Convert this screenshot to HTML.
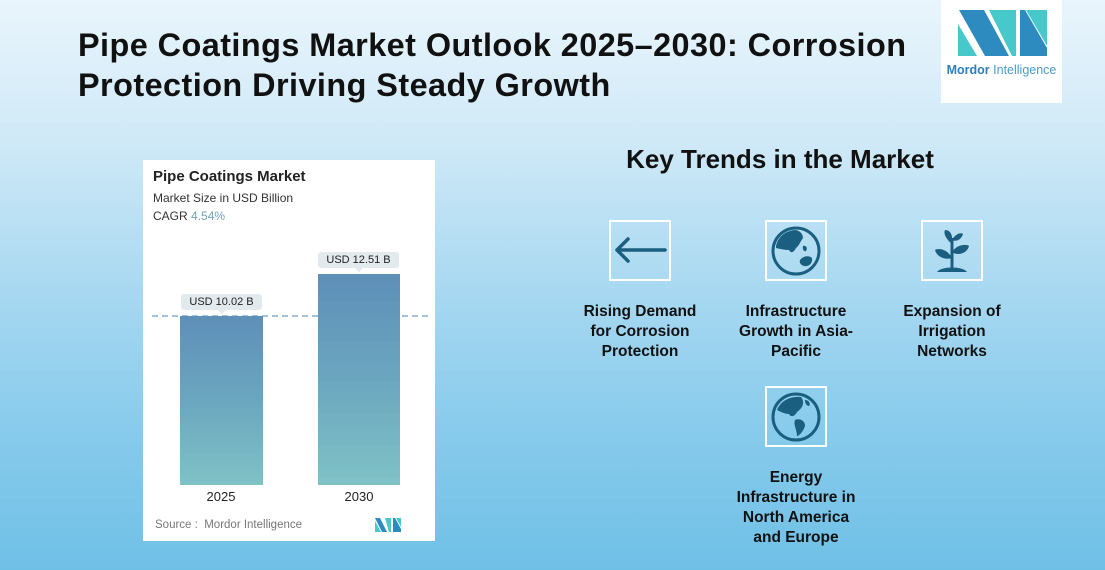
<!DOCTYPE html>
<html><head><meta charset="utf-8"><style>
*{margin:0;padding:0;box-sizing:border-box}
html,body{width:1105px;height:570px;overflow:hidden}
body{position:relative;font-family:"Liberation Sans",sans-serif;background:linear-gradient(180deg,#e9f5fc 0%,#cfe9f7 25%,#a9d9f1 50%,#88cbec 75%,#6fc0e7 100%)}
.abs{position:absolute}
.title{left:78px;top:25px;font-size:32.4px;font-weight:bold;color:#111;line-height:40px;letter-spacing:0.45px;white-space:nowrap}
.logo{left:941px;top:0;width:121px;height:103px;background:#fff}
.card{left:143px;top:160px;width:292px;height:381px;background:#fff}
.ct{font-size:15px;font-weight:bold;color:#222;letter-spacing:0}
.cs{font-size:12px;color:#333}
.bar{background:linear-gradient(180deg,#5e8fb8 0%,#6ba6bf 50%,#7fc2c6 100%)}
.lbl{background:#e2eaed;border-radius:3px;font-size:11px;color:#222;text-align:center;line-height:16px;height:16px}
.lbl:after{content:"";position:absolute;left:50%;margin-left:-4px;top:16px;border-left:4px solid transparent;border-right:4px solid transparent;border-top:4px solid #e2eaed}
.yr{font-size:13px;color:#222;width:80px;text-align:center}
.kt{left:530px;width:500px;top:144px;text-align:center;font-size:26px;font-weight:bold;color:#111}
.ib{width:62px;height:61px;border:2px solid #fff}
.it{width:170px;text-align:center;font-size:15.5px;font-weight:bold;color:#111;line-height:20px}
</style></head><body>
<div class="abs title">Pipe Coatings Market Outlook 2025–2030: Corrosion<br>Protection Driving Steady Growth</div>

<div class="abs logo">
<svg width="121" height="103" viewBox="0 0 121 103">
<polygon points="17,24 17,56 36,56" fill="#47c9cc"/>
<polygon points="18,10 43,10 68,56 44,56" fill="#2e8bc0"/>
<polygon points="48,10 75,10 75,56 71,56" fill="#47c9cc"/>
<polygon points="79,10 84,10 106,48 106,56 79,56" fill="#2e8bc0"/>
<polygon points="85,10 106,10 106,46" fill="#47c9cc"/>
<text x="60.5" y="74" text-anchor="middle" font-family="Liberation Sans,sans-serif" font-size="12.5" fill="#2e7fb5"><tspan font-weight="bold">Mordor</tspan><tspan fill="#4a9ccc"> Intelligence</tspan></text>
</svg>
</div>

<div class="abs card">
<div class="abs ct" style="left:10px;top:8px">Pipe Coatings Market</div>
<div class="abs cs" style="left:10px;top:31px">Market Size in USD Billion</div>
<div class="abs cs" style="left:10px;top:49px">CAGR <span style="color:#6fa0c0">4.54%</span></div>
<svg class="abs" style="left:9px;top:155px" width="279" height="2"><line x1="0" y1="1" x2="279" y2="1" stroke="#6d9dc0" stroke-width="1.2" stroke-dasharray="6,4"/></svg>
<div class="abs bar" style="left:37px;top:156px;width:83px;height:169px"></div>
<div class="abs bar" style="left:175px;top:114px;width:82px;height:211px"></div>
<div class="abs lbl" style="left:38px;top:134px;width:81px">USD 10.02 B</div>
<div class="abs lbl" style="left:175px;top:92px;width:81px">USD 12.51 B</div>
<div class="abs yr" style="left:38px;top:329px">2025</div>
<div class="abs yr" style="left:176px;top:329px">2030</div>
<div class="abs" style="left:12px;top:359px;font-size:11.5px;color:#777">Source :&nbsp; Mordor Intelligence</div>
<svg class="abs" style="left:232px;top:358px" width="26" height="14" viewBox="0 0 26 14">
<polygon points="0,0 5,0 12,14 7,14" fill="#2e8bc0"/><polygon points="0,3 0,14 6,14" fill="#47c9cc"/>
<polygon points="10,0 16,0 16,14 14,14" fill="#47c9cc"/><polygon points="18,0 20,0 26,11 26,14 18,14" fill="#2e8bc0"/><polygon points="21,0 26,0 26,9" fill="#47c9cc"/>
</svg>
</div>

<div class="abs kt">Key Trends in the Market</div>

<div class="abs ib" style="left:609px;top:220px">
<svg width="58" height="57" viewBox="0 0 58 57"><path d="M6 28 H54 M6 28 L17 17 M6 28 L17 39" stroke="#1a5f80" stroke-width="3.5" stroke-linecap="round" fill="none"/></svg>
</div>
<div class="abs ib" style="left:765px;top:220px">
<svg width="58" height="57" viewBox="0 0 58 57"><circle cx="29" cy="29" r="23" fill="none" stroke="#1a5f80" stroke-width="3"/>
<path d="M9 24 C11 14 20 8 29 8 C33 9 36 12 36 16 C33 20 32 24 29 26 C27 30 24 32 22 28 C18 28 13 27 9 26 Z" fill="#1a5f80"/>
<path d="M33 38 C36 34 42 33 45 36 C46 41 42 45 37 44 C34 43 32 41 33 38 Z" fill="#1a5f80"/>
<path d="M36 24 C39 23 41 26 39 29 C37 30 35 27 36 24 Z" fill="#1a5f80"/></svg>
</div>
<div class="abs ib" style="left:921px;top:220px">
<svg width="58" height="57" viewBox="0 0 58 57">
<path d="M29 50 V16" stroke="#1a5f80" stroke-width="3"/>
<path d="M14 50 C18 44 40 44 44 50 Z" fill="#1a5f80"/>
<path d="M29 36 C24 26 14 26 12 28 C14 36 24 38 29 36 Z" fill="#1a5f80"/>
<path d="M29 30 C34 22 44 22 46 24 C44 32 34 34 29 30 Z" fill="#1a5f80"/>
<path d="M29 22 C24 18 20 12 22 8 C28 8 30 14 29 22 Z" fill="#1a5f80"/>
<path d="M29 18 C32 12 38 10 40 12 C38 18 33 20 29 18 Z" fill="#1a5f80"/>
</svg>
</div>
<div class="abs ib" style="left:765px;top:386px">
<svg width="58" height="57" viewBox="0 0 58 57"><circle cx="29" cy="29" r="23" fill="none" stroke="#1a5f80" stroke-width="3"/>
<path d="M10 22 C14 12 24 8 34 9 C38 14 36 20 30 24 C28 28 24 30 22 26 C18 26 14 24 10 22 Z" fill="#1a5f80"/>
<path d="M28 32 C32 30 38 32 38 38 C36 44 32 48 30 48 C30 42 26 36 28 32 Z" fill="#1a5f80"/>
<path d="M38 12 C42 12 44 16 42 18 C40 18 38 16 38 12 Z" fill="#1a5f80"/></svg>
</div>

<div class="abs it" style="left:555px;top:302px">Rising Demand<br>for Corrosion<br>Protection</div>
<div class="abs it" style="left:711px;top:302px">Infrastructure<br>Growth in Asia-<br>Pacific</div>
<div class="abs it" style="left:867px;top:302px">Expansion of<br>Irrigation<br>Networks</div>
<div class="abs it" style="left:711px;top:468px">Energy<br>Infrastructure in<br>North America<br>and Europe</div>
</body></html>
